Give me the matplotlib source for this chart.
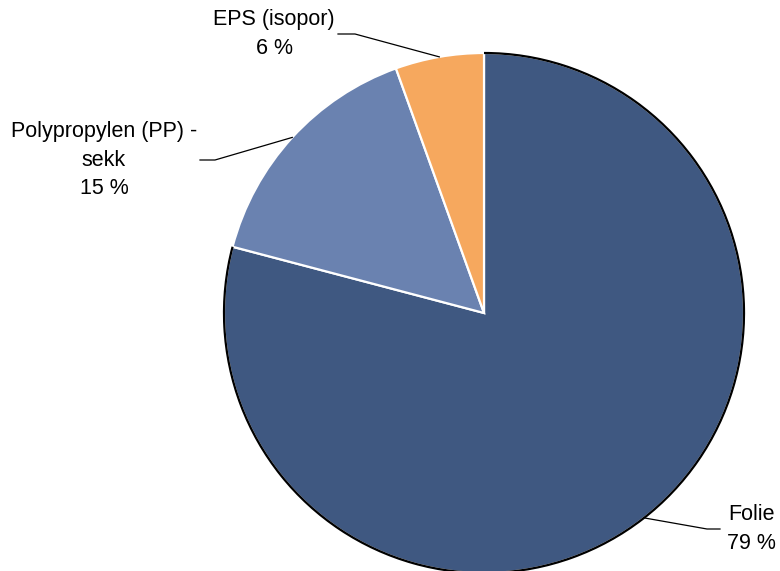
import matplotlib.pyplot as plt
import numpy as np
from matplotlib.patches import Arc

plt.rcParams['font.family'] = ['Liberation Sans', 'DejaVu Sans']

# data
labels = ['Folie', 'Polypropylen (PP) -\nsekk', 'EPS (isopor)']
values = [79.1, 15.4, 5.5]
pct_text = ['79 %', '15 %', '6 %']
colors = ['#3f5881', '#6a82b0', '#f6a85e']

# label anchors and leader line layout
label_pos = [(751, 42), (104, 411), (274, 537)]
leader_angle = [-52, None, None]   # None -> middle of slice
elbow_x = [707, 215, 355]
line_end_x = [720, 200, 338]

fig = plt.figure(figsize=(7.8, 5.71), dpi=100)
ax = fig.add_axes([0, 0, 1, 1])

cx, cy, r = 484, 258, 260
wedges, _ = ax.pie(values, colors=colors, startangle=90, counterclock=False,
                   center=(cx, cy), radius=r, frame=True,
                   wedgeprops=dict(edgecolor='white', linewidth=1.6))
ax.set_xlim(0, 780)
ax.set_ylim(0, 571)
ax.set_aspect('equal')
ax.axis('off')

# dark outline on the big slice
w0 = wedges[0]
ax.add_patch(Arc((cx, cy), 2 * r, 2 * r, theta1=w0.theta1, theta2=w0.theta2,
                 color='black', linewidth=1.6))

for w, lab, pct, (lx, ly), la, ex, endx in zip(wedges, labels, pct_text, label_pos,
                                              leader_angle, elbow_x, line_end_x):
    ax.text(lx, ly, lab + '\n' + pct, ha='center', va='center',
            fontsize=15.5, linespacing=1.5, color='black')
    if la is None:
        la = (w.theta1 + w.theta2) / 2
    ang = np.deg2rad(la)
    sx, sy = cx + r * np.cos(ang), cy + r * np.sin(ang)
    ax.plot([sx, ex, endx], [sy, ly, ly], color='black', linewidth=0.9)

fig.savefig('out.png', dpi=100)
